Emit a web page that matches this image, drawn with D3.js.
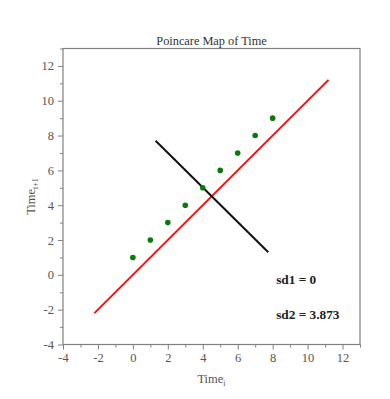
<!DOCTYPE html>
<html>
<head>
<meta charset="utf-8">
<script src="https://cdn.jsdelivr.net/npm/d3@7"></script>
<style>
  body { margin: 0; background: #fff; }
  svg text { font-family: "Times New Roman", "Liberation Serif", Tinos, Times, serif !important; }
</style>
</head>
<body>
<div id="chart"></div>
<script>
// data
const xs = [0, 1, 2, 3, 4, 5, 6, 7, 8];
const ys = [1, 2, 3, 4, 5, 6, 7, 8, 9];
const identityLine = [[-2.2, -2.2], [11.2, 11.2]];
const sdLine = [[1.3, 7.7], [7.75, 1.3]];
const majorTicks = [-4, -2, 0, 2, 4, 6, 8, 10, 12];
const minorTicks = [-3, -1, 1, 3, 5, 7, 9, 11, 13];
const notes = ["sd1 = 0", "sd2 = 3.873"];

const margin = {top: 48.5, right: 30, bottom: 54.5, left: 63};
const width = 390 - margin.left - margin.right;
const height = 399 - margin.top - margin.bottom;

const svg = d3.select("#chart").append("svg")
  .attr("width", 390)
  .attr("height", 399);

const g = svg.append("g")
  .attr("transform", `translate(${margin.left},${margin.top})`);

const x = d3.scaleLinear().domain([-4, 13]).range([0, width]);
const y = d3.scaleLinear().domain([-4, 13]).range([height, 0]);

// frame
g.append("rect")
  .attr("width", width).attr("height", height)
  .attr("fill", "none").attr("stroke", "#808080").attr("stroke-width", 1.2);

// axes
const fmt = d => String(d);
const xAxis = g.append("g").attr("transform", `translate(0,${height})`)
  .call(d3.axisBottom(x).tickValues(majorTicks).tickSize(5).tickPadding(4).tickFormat(fmt));
const xMinor = g.append("g").attr("transform", `translate(0,${height})`)
  .call(d3.axisBottom(x).tickValues(minorTicks).tickSize(3).tickFormat(""));
const yAxis = g.append("g")
  .call(d3.axisLeft(y).tickValues(majorTicks).tickSize(5).tickPadding(4).tickFormat(fmt));
const yMinor = g.append("g")
  .call(d3.axisLeft(y).tickValues(minorTicks).tickSize(3).tickFormat(""));

[xAxis, xMinor, yAxis, yMinor].forEach(a => {
  a.select(".domain").remove();
  a.selectAll("line").attr("stroke", "#808080");
  a.selectAll("text")
    .attr("fill", "#555")
    .style("font-size", "12.5px");
});

const line = d3.line().x(d => x(d[0])).y(d => y(d[1]));

g.append("path").datum(identityLine)
  .attr("d", line).attr("stroke", "#ee1111").attr("stroke-width", 2).attr("fill", "none");

g.append("path").datum(sdLine)
  .attr("d", line).attr("stroke", "#111").attr("stroke-width", 2).attr("fill", "none");

g.selectAll("circle.pt")
  .data(xs.map((d, i) => [d, ys[i]]))
  .join("circle")
  .attr("class", "pt")
  .attr("cx", d => x(d[0]))
  .attr("cy", d => y(d[1]))
  .attr("r", 2.8)
  .attr("fill", "#0a7a0a");

// annotations
g.selectAll("text.note")
  .data(notes)
  .join("text")
  .attr("class", "note")
  .attr("x", x(8.2))
  .attr("y", (d, i) => y(-0.55) + i * 35)
  .attr("font-weight", "bold")
  .attr("font-size", "13.3px")
  .attr("fill", "#222")
  .text(d => d);

// title and labels
svg.append("text")
  .attr("x", margin.left + width / 2).attr("y", 45)
  .attr("text-anchor", "middle")
  .attr("font-size", "12.3px").attr("fill", "#333")
  .text("Poincare Map of Time");

const xl = svg.append("text")
  .attr("x", margin.left + width / 2).attr("y", 383)
  .attr("text-anchor", "middle")
  .attr("font-size", "12.5px").attr("fill", "#555");
xl.append("tspan").text("Time");
xl.append("tspan").attr("dy", 3).attr("font-size", "8px").text("i");

const yl = svg.append("text")
  .attr("transform", `translate(35,${margin.top + height / 2}) rotate(-90)`)
  .attr("text-anchor", "middle")
  .attr("font-size", "12.5px").attr("fill", "#555");
yl.append("tspan").text("Time");
yl.append("tspan").attr("dy", 3).attr("font-size", "8px").text("t+1");
</script>
</body>
</html>
